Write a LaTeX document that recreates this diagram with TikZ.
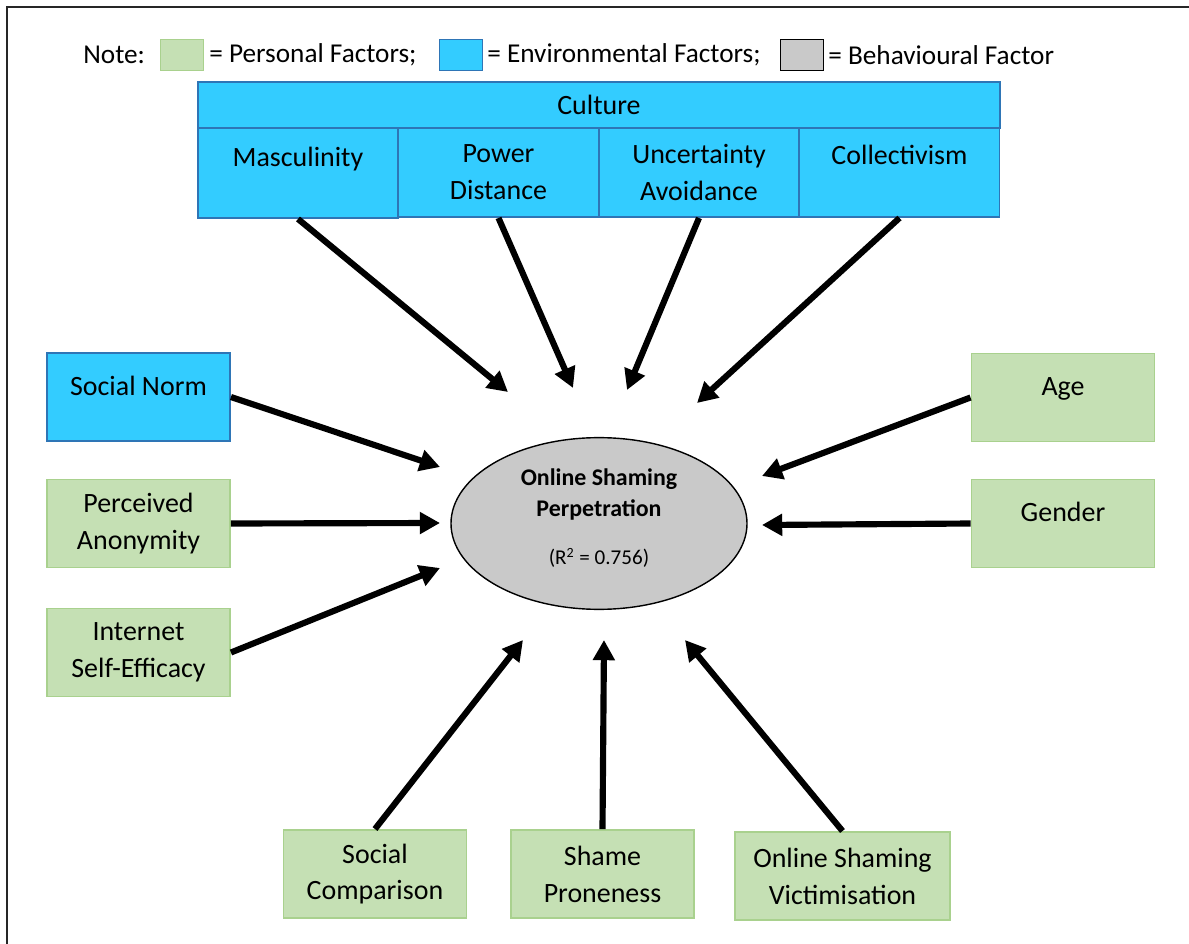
\documentclass[tikz,border=0pt]{standalone}
\usepackage{fontspec}
\setmainfont{Carlito}
\usepackage{xcolor}
\usetikzlibrary{arrows.meta,shapes.geometric}
\definecolor{envblue}{HTML}{33CCFF}
\definecolor{envedge}{HTML}{2E75B6}
\definecolor{persgreen}{HTML}{C5E0B4}
\definecolor{persedge}{HTML}{A9D18E}
\definecolor{behgray}{HTML}{C9C9C9}
\tikzset{
  env/.style={draw=envedge, fill=envblue, line width=1.1pt, align=center, inner sep=0pt},
  pers/.style={draw=persedge, fill=persgreen, line width=1.1pt, align=center, inner sep=0pt,
    minimum width=3.66cm, minimum height=1.76cm},
  onetop/.style={text height=4mm, text depth=#1},
  swatch/.style={minimum width=0.86cm, minimum height=0.62cm, inner sep=0pt, line width=1.1pt},
  leg/.style={anchor=west, inner sep=0pt, font=\fontsize{15.5pt}{19pt}\selectfont},
  arr/.style={line width=3.5pt, -{Triangle[length=11.5pt,width=12pt]}}
}

\begin{document}
\begin{tikzpicture}[x=0.2mm, y=-0.2mm, every node/.append style={font=\fontsize{15.9pt}{21pt}\selectfont}]
  \useasboundingbox (0,0) rectangle (1189,944);
  \draw[line width=1.2pt, black!85] (7,944) -- (7,7) -- (1189,7);

  % legend
  \node[leg] (note) at (83,55) {Note:};
  \node[swatch, draw=persedge, fill=persgreen] (legP) at (182,55) {};
  \node[leg] (legPt) at (209,55) {= Personal Factors;};
  \node[swatch, draw=envedge, fill=envblue] (legE) at (461,55) {};
  \node[leg] (legEt) at (487,55) {= Environmental Factors;};
  \node[swatch, draw=black, fill=behgray] (legB) at (802,55) {};
  \node[leg] (legBt) at (828,55) {= Behavioural Factor};

  % culture
  \node[env, minimum width=16.04cm, minimum height=0.92cm] (cult) at (599,105) {Culture};
  \node[env, minimum width=4cm, minimum height=1.8cm, onetop=6.6mm] (masc) at (298,173) {Masculinity};
  \node[env, minimum width=4cm, minimum height=1.78cm] (pd) at (498.5,172.5) {Power\\Distance};
  \node[env, minimum width=4cm, minimum height=1.78cm] (ua) at (699,172.5) {Uncertainty\\Avoidance};
  \node[env, minimum width=4cm, minimum height=1.78cm, onetop=7mm] (coll) at (899.5,172.5) {Collectivism};

  % outcome
  \node[ellipse, draw=black, fill=behgray, line width=0.8pt, minimum width=5.92cm, minimum height=3.06cm,
    align=center, text depth=2.7mm, font=\fontsize{13.6pt}{17.6pt}\selectfont\bfseries] (osp) at (599,523.5)
    {Online Shaming\\Perpetration\\[10pt]{\fontsize{12pt}{14pt}\selectfont\mdseries (R\textsuperscript{2} = 0.756)}};

  % left and right
  \node[env, minimum width=3.66cm, minimum height=1.76cm, onetop=4.5mm] (sn) at (138.5,397) {Social Norm};
  \node[pers] (pa) at (138.5,523.5) {Perceived\\Anonymity};
  \node[pers] (ise) at (138.5,652.5) {Internet\\Self-Efficacy};
  \node[pers, onetop=4.7mm] (age) at (1063,397.5) {Age};
  \node[pers, onetop=4.7mm] (gen) at (1063,523.5) {Gender};

  % bottom
  \node[pers] (sc) at (375,874) {Social\\Comparison};
  \node[pers] (sp) at (602.5,874) {Shame\\Proneness};
  \node[pers, minimum width=4.3cm] (osv) at (842.5,876) {Online Shaming\\Victimisation};

  \coordinate (tmasc) at (508,392);
  \coordinate (tpd) at (573,388);
  \coordinate (tua) at (627,390);
  \coordinate (tcoll) at (697,403);
  \coordinate (tsn) at (440,467);
  \coordinate (tpa) at (440,523);
  \coordinate (tise) at (440,568);
  \coordinate (tage) at (762,476);
  \coordinate (tgen) at (762,525);
  \coordinate (tsc) at (523,640);
  \coordinate (tsp) at (604,640);
  \coordinate (tosv) at (685,640);

  \foreach \s/\t in {masc.south/tmasc, pd.south/tpd, ua.south/tua, coll.south/tcoll,
                     sn.east/tsn, pa.east/tpa, ise.east/tise, age.west/tage, gen.west/tgen,
                     sc.north/tsc, sp.north/tsp, osv.north/tosv}
    \draw[arr] (\s) -- (\t);
\end{tikzpicture}
\end{document}
